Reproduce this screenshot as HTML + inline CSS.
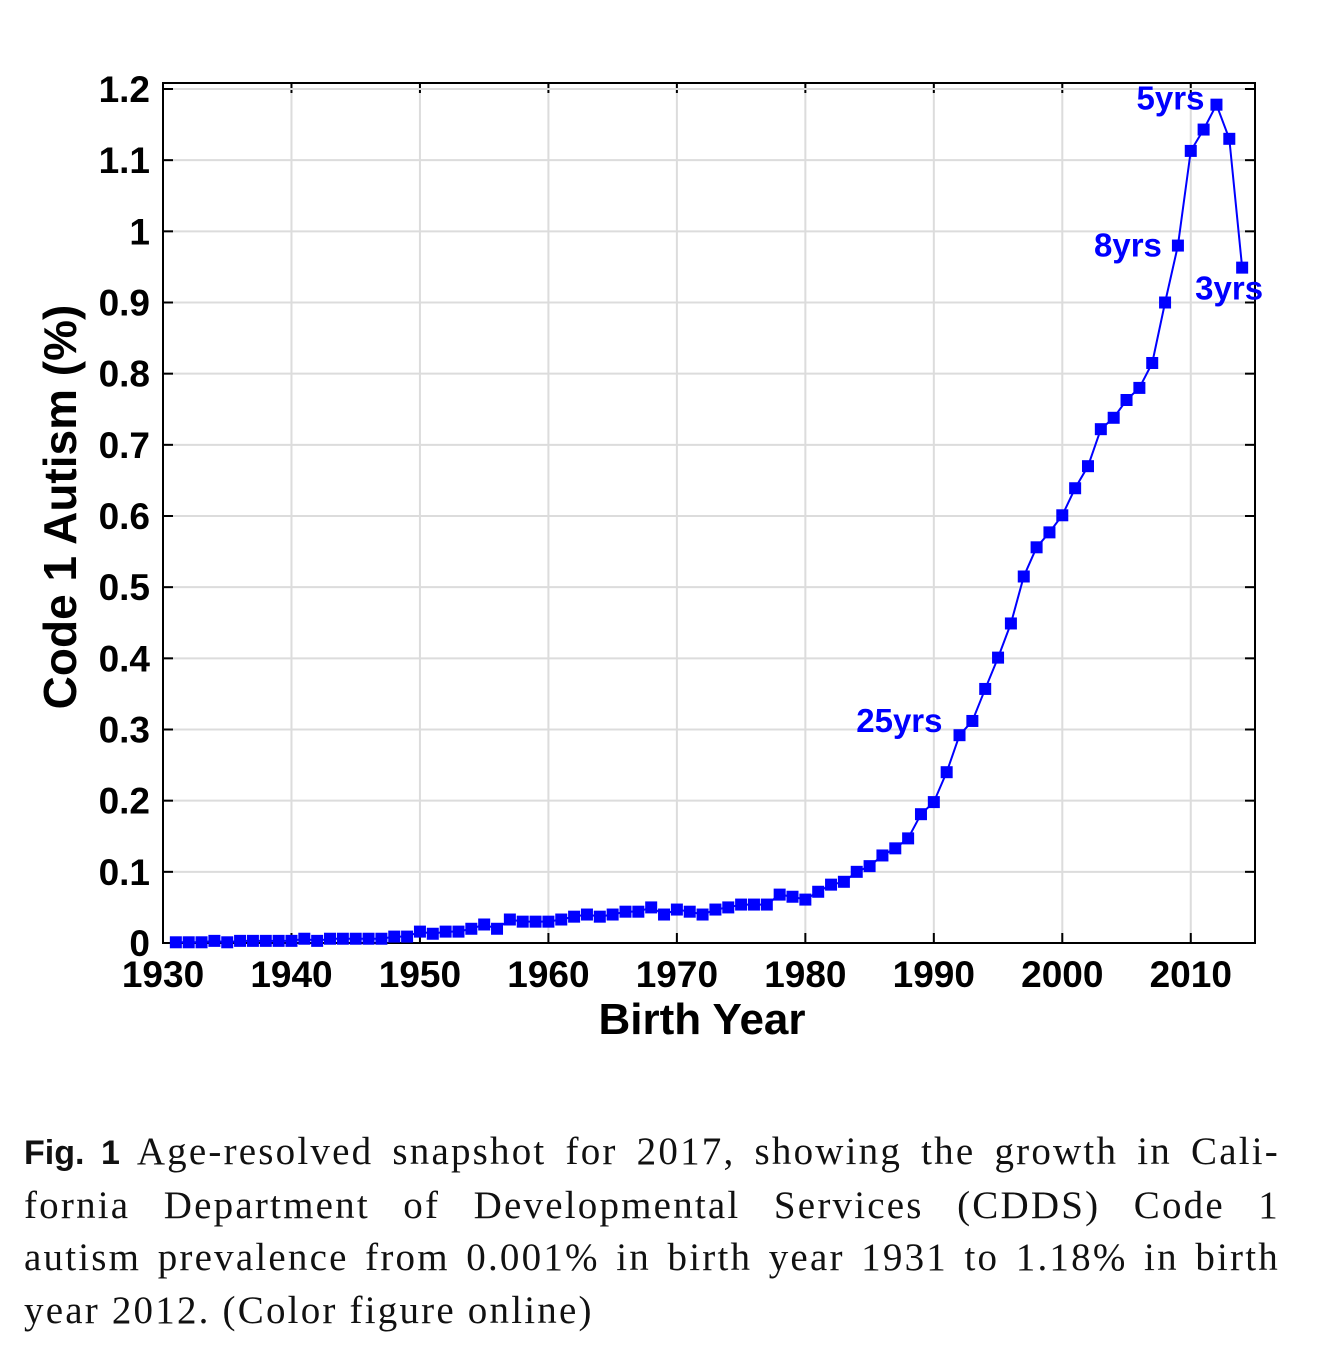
<!DOCTYPE html>
<html><head><meta charset="utf-8"><style>
body{margin:0;background:#fff;width:1320px;height:1348px;overflow:hidden;position:relative}
svg{position:absolute;left:0;top:0}
.cap{position:absolute;left:24px;top:1126px;width:1256px;font-family:"Liberation Serif",serif;font-size:39px;letter-spacing:2.2px;line-height:52.5px;color:#111}
.cap div{text-align:justify;text-align-last:justify;white-space:nowrap}
.cap div.last{text-align-last:left}
.cap b{font-family:"Liberation Sans",sans-serif;font-size:34px;font-weight:bold;letter-spacing:0}
</style></head><body>
<svg id="chart" width="1320" height="1100"></svg>
<div class="cap">
<div><b>Fig. 1</b> Age-resolved snapshot for 2017, showing the growth in Cali-</div>
<div>fornia Department of Developmental Services (CDDS) Code 1</div>
<div>autism prevalence from 0.001% in birth year 1931 to 1.18% in birth</div>
<div class="last">year 2012. (Color figure online)</div>
</div>
<script>
const years=[];for(let y=1931;y<=2014;y++)years.push(y);
const values=[0.001,0.001,0.001,0.003,0.001,0.003,0.003,0.003,0.003,0.003,0.006,0.003,0.006,0.006,0.006,0.006,0.006,0.009,0.009,0.016,0.013,0.016,0.016,0.02,0.026,0.02,0.033,0.03,0.03,0.03,0.033,0.037,0.04,0.037,0.04,0.044,0.044,0.05,0.04,0.047,0.044,0.04,0.047,0.05,0.054,0.054,0.054,0.068,0.065,0.061,0.072,0.082,0.086,0.1,0.108,0.123,0.133,0.147,0.181,0.198,0.24,0.292,0.312,0.357,0.401,0.449,0.515,0.556,0.577,0.601,0.639,0.67,0.722,0.738,0.763,0.78,0.815,0.9,0.98,1.113,1.143,1.178,1.13,0.949];
const xTicks=[1930,1940,1950,1960,1970,1980,1990,2000,2010];
const yTicks=[0,0.1,0.2,0.3,0.4,0.5,0.6,0.7,0.8,0.9,1,1.1,1.2];
const yTickLabels=["0","0.1","0.2","0.3","0.4","0.5","0.6","0.7","0.8","0.9","1","1.1","1.2"];
const annotations=[{year:2012,text:"5yrs",dx:-12,dy:-6,anchor:"end"},{year:2009,text:"8yrs",dx:-16,dy:0,anchor:"end"},{year:2014,text:"3yrs",dx:-47,dy:21,anchor:"start"},{year:1992,text:"25yrs",dx:-17,dy:-14,anchor:"end"}];
const L=163,R=1255,T=83,B=943;
const X=v=>L+(v-1930)/85*(R-L);
const Y=v=>B-v/1.2*854;
const svg=document.getElementById('chart');const NS='http://www.w3.org/2000/svg';
function mk(t,a,p){const e=document.createElementNS(NS,t);for(const k in a)e.setAttribute(k,a[k]);(p||svg).appendChild(e);return e;}
xTicks.forEach(t=>{const g=mk('line',{x1:X(t),x2:X(t),y1:T,y2:B,stroke:'#dcdcdc','stroke-width':2});

mk('line',{x1:X(t),x2:X(t),y1:B,y2:B-10,stroke:'#000','stroke-width':2});mk('line',{x1:X(t),x2:X(t),y1:T,y2:T+10,stroke:'#000','stroke-width':2});
const tx=mk('text',{x:X(t),y:B+44,'text-anchor':'middle','font-family':'Liberation Sans, sans-serif','font-weight':'bold','font-size':37});tx.textContent=t;
});
yTicks.forEach((t,i)=>{const g=mk('line',{x1:L,x2:R,y1:Y(t),y2:Y(t),stroke:'#dcdcdc','stroke-width':2});

mk('line',{x1:L,x2:L+10,y1:Y(t),y2:Y(t),stroke:'#000','stroke-width':2});mk('line',{x1:R,x2:R-10,y1:Y(t),y2:Y(t),stroke:'#000','stroke-width':2});
const tx=mk('text',{x:150,y:Y(t)+13,'text-anchor':'end','font-family':'Liberation Sans, sans-serif','font-weight':'bold','font-size':37});tx.textContent=yTickLabels[i];
});
const fr=mk('rect',{x:L,y:T,width:R-L,height:B-T,fill:'none',stroke:'#000','stroke-width':2});

const ln=mk('polyline',{points:years.map((y,i)=>X(y)+','+Y(values[i])).join(' '),fill:'none',stroke:'#0000ff','stroke-width':2});

years.forEach((y,i)=>{const m=mk('rect',{x:X(y)-6,y:Y(values[i])-6,width:12,height:12,fill:'#0000ff'});
});
annotations.forEach(a=>{const i=years.indexOf(a.year);const t=mk('text',{x:X(a.year)+a.dx,y:Y(values[i])+a.dy+11,'text-anchor':a.anchor,'font-family':'Liberation Sans, sans-serif','font-weight':'bold','font-size':33,fill:'#0000ff'});t.textContent=a.text;
});
const xt=mk('text',{x:702,y:1034,'text-anchor':'middle','font-family':'Liberation Sans, sans-serif','font-weight':'bold','font-size':44});xt.textContent='Birth Year';

const yt=mk('text',{x:0,y:0,transform:'translate(76,507) rotate(-90)','text-anchor':'middle','font-family':'Liberation Sans, sans-serif','font-weight':'bold','font-size':46});yt.textContent='Code 1 Autism (%)';

</script>
</body></html>
